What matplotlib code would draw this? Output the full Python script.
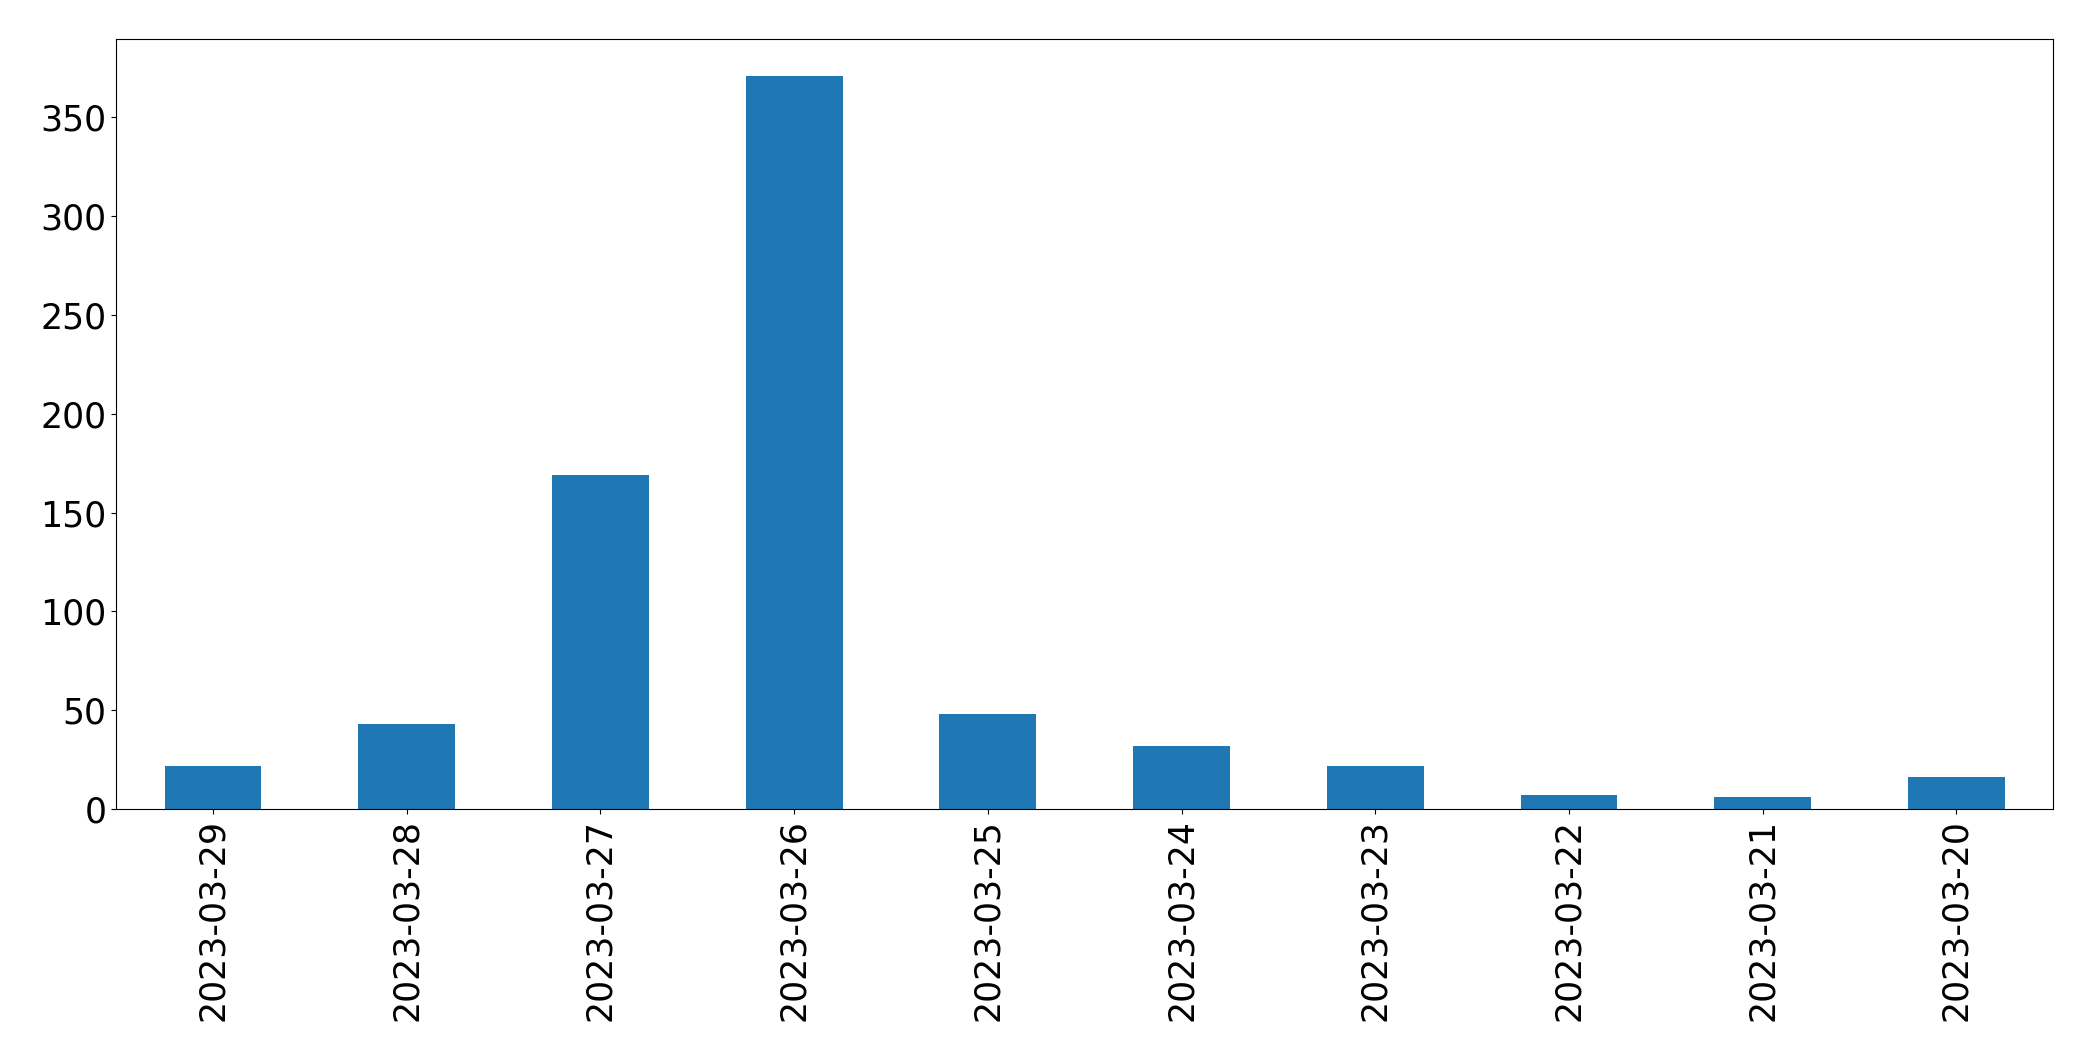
import matplotlib
matplotlib.use("Agg")
import matplotlib.pyplot as plt
import pandas as pd

dates = ["2023-03-29", "2023-03-28", "2023-03-27", "2023-03-26", "2023-03-25",
         "2023-03-24", "2023-03-23", "2023-03-22", "2023-03-21", "2023-03-20"]
counts = [22, 43, 169, 371, 48, 32, 22, 7, 6, 16]

series = pd.Series(counts, index=dates)

fig = plt.figure(figsize=(20.93, 10.61), dpi=100)
ax = fig.add_subplot(111)
series.plot.bar(ax=ax, color="#1f77b4", fontsize=25)
fig.subplots_adjust(left=0.0555, right=0.981, top=0.963, bottom=0.2375)
plt.savefig("out.png", dpi=100)
